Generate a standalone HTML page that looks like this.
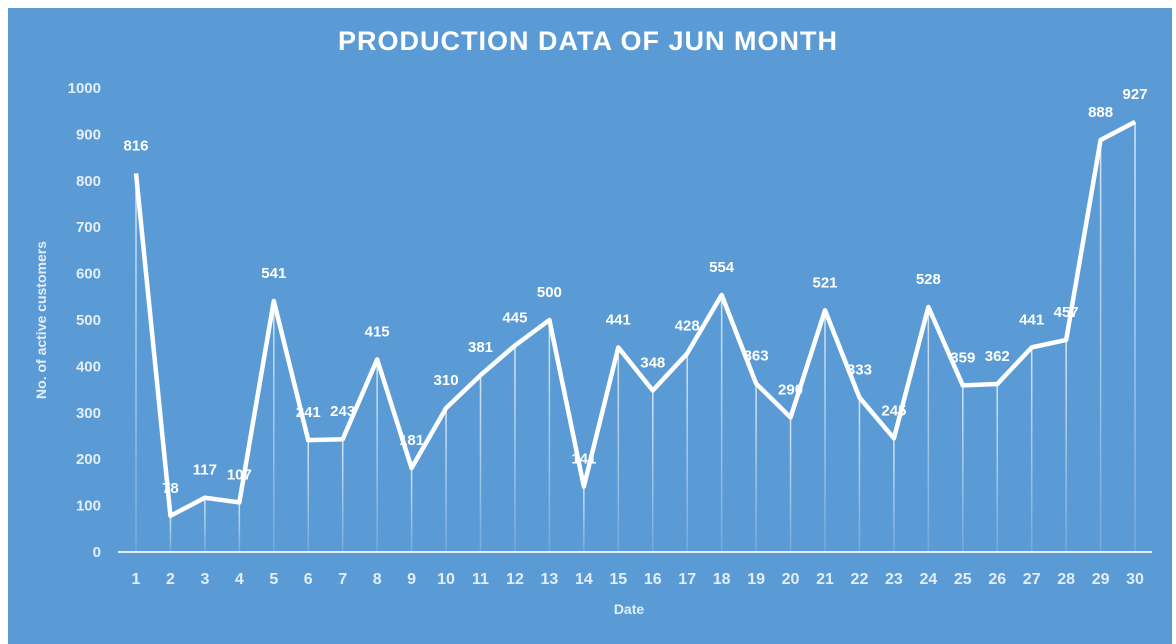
<!DOCTYPE html>
<html><head><style>
body{margin:0;background:#fff;width:1176px;height:644px;overflow:hidden}
svg{display:block}
text{font-family:"Liberation Sans",sans-serif;font-weight:bold}
</style></head><body>
<svg width="1176" height="644" viewBox="0 0 1176 644">
<defs><linearGradient id="g" x1="0" y1="0" x2="0" y2="1"><stop offset="0" stop-color="#fff" stop-opacity="0.75"/><stop offset="1" stop-color="#fff" stop-opacity="0.15"/></linearGradient></defs>
<rect x="8" y="8" width="1164" height="636" fill="#5b9bd5"/>
<text x="588" y="50" font-size="27" fill="#fff" text-anchor="middle" letter-spacing="1">PRODUCTION DATA OF JUN MONTH</text>
<g id="yl" font-size="15" fill="#e4eef8" text-anchor="end"></g>
<line x1="118" y1="552" x2="1152" y2="552" stroke="#e4eef8" stroke-width="2"/>
<g id="drops"></g>
<g id="xl" font-size="16" fill="#e4eef8" text-anchor="middle"></g>
<polyline id="ln" fill="none" stroke="#fff" stroke-width="4.5" stroke-linejoin="round"/>
<g id="dl" font-size="15" fill="#fff" text-anchor="middle"></g>
<text x="629" y="614" font-size="14" fill="#e4eef8" text-anchor="middle">Date</text>
<text transform="translate(46,320) rotate(-90)" font-size="14" fill="#e4eef8" text-anchor="middle">No. of active customers</text>
</svg>
<script>
var v=[816,78,117,107,541,241,243,415,181,310,381,445,500,141,441,348,428,554,363,290,521,333,245,528,359,362,441,457,888,927];
var ns="http://www.w3.org/2000/svg";
function X(i){return 136+i*34.45}function Y(a){return 552-a*0.464}
function el(p,t,a,txt){var e=document.createElementNS(ns,t);for(var k in a)e.setAttribute(k,a[k]);if(txt!=null)e.textContent=txt;document.getElementById(p).appendChild(e);}
for(var k=0;k<=10;k++)el("yl","text",{x:101,y:Y(k*100)+5},k*100);
var pts=[];
v.forEach(function(a,i){var x=X(i),y=Y(a);pts.push(x+","+y);
el("drops","rect",{x:x-0.75,y:y,width:1.5,height:552-y,fill:"url(#g)"});
el("xl","text",{x:x,y:584},i+1);
el("dl","text",{x:x,y:y-23},a);});
document.getElementById("ln").setAttribute("points",pts.join(" "));
</script>
</body></html>
